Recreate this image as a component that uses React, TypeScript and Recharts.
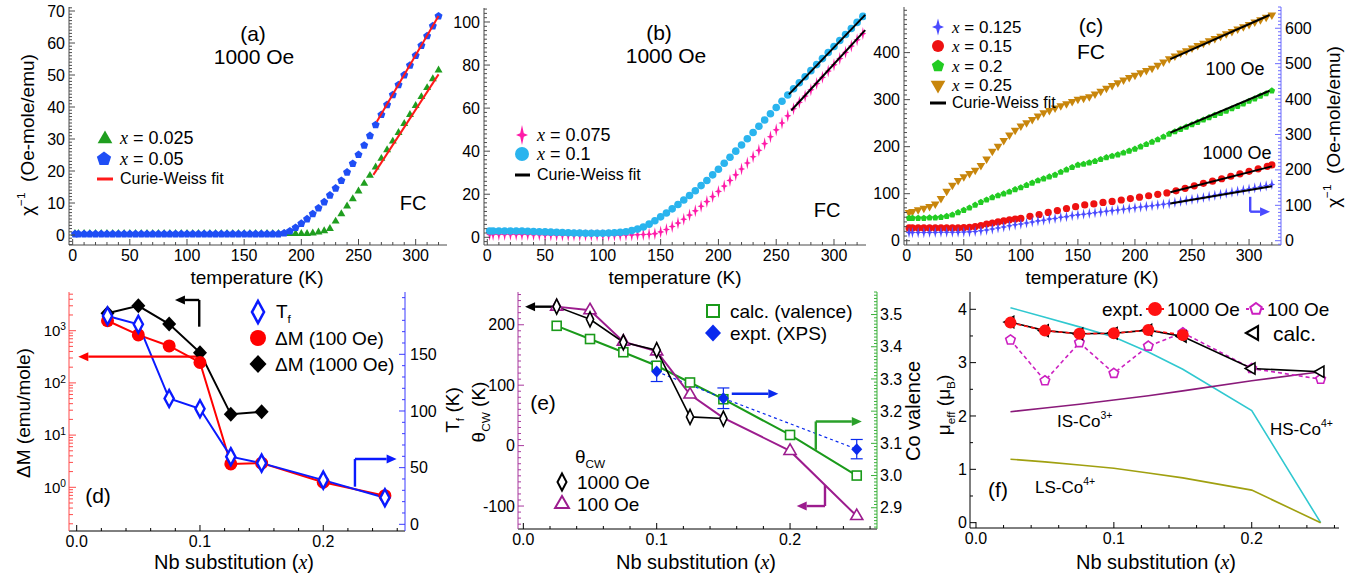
import React from 'react';
import { ComposedChart, Line, XAxis, YAxis, ReferenceLine, ErrorBar } from 'recharts';

const FONT = "'Liberation Sans', Arial, Helvetica, sans-serif";
const SERIF = "'Liberation Serif', 'Times New Roman', serif";

// ---------------- data: temperature panels ----------------
const T5 = [2, 5, 10, 15, 20, 25, 30, 35, 40, 45, 50, 55, 60, 65, 70, 75, 80, 85, 90, 95, 100, 105, 110, 115, 120, 125, 130, 135, 140, 145, 150, 155, 160, 165, 170, 175, 180, 185, 190, 195, 200, 205, 210, 215, 220, 225, 230, 235, 240, 245, 250, 255, 260, 265, 270, 275, 280, 285, 290, 295, 300, 305, 310, 315, 320];
const T5b = [...T5, 325];
const tRed = [2, 5, 10, 15, 20, 25, 30, 35, 40, 45, 50, 55, 60, 65, 70, 75, 80, 85, 90, 95, 100, 108, 116, 124, 132, 140, 148, 156, 164, 172, 180, 188, 196, 204, 212, 220, 228, 236, 244, 252, 260, 268, 276, 284, 292, 300, 308, 316, 320];

// (a) 1000 Oe
const chiA_x025 = [0.4, 0.4, 0.4, 0.4, 0.4, 0.4, 0.4, 0.4, 0.4, 0.4, 0.4, 0.4, 0.4, 0.4, 0.4, 0.4, 0.4, 0.4, 0.4, 0.4, 0.4, 0.4, 0.4, 0.4, 0.4, 0.4, 0.4, 0.4, 0.4, 0.4, 0.4, 0.4, 0.4, 0.4, 0.4, 0.4, 0.4, 0.4, 0.4, 0.4, 0.4, 0.4, 0.6, 0.9, 1.3, 2.0, 4.3, 6.6, 9.0, 11.3, 13.7, 16.1, 18.6, 21.2, 23.9, 26.6, 29.3, 32.0, 34.8, 37.6, 40.4, 43.2, 46.0, 48.8, 51.5];
const chiA_x05 = [0.3, 0.3, 0.3, 0.3, 0.3, 0.3, 0.3, 0.3, 0.3, 0.3, 0.3, 0.3, 0.3, 0.3, 0.3, 0.3, 0.3, 0.3, 0.3, 0.3, 0.3, 0.3, 0.3, 0.3, 0.3, 0.3, 0.3, 0.3, 0.3, 0.3, 0.3, 0.3, 0.3, 0.3, 0.3, 0.3, 0.3, 0.6, 1.2, 2.3, 3.6, 5.0, 6.6, 8.4, 10.3, 12.4, 14.6, 17.0, 19.6, 22.3, 25.1, 28.0, 31.0, 34.4, 37.6, 40.7, 43.8, 46.9, 50.0, 53.0, 56.1, 59.2, 62.2, 65.3, 68.4];
const fitA_x025 = [[263, 18.8], [320, 50.2]];
const fitA_x05 = [[266, 35.4], [320, 68.4]];

// (b) 1000 Oe
const chiB_x01 = [2.9, 2.9, 2.9, 2.9, 2.9, 2.9, 2.9, 2.8, 2.7, 2.6, 2.5, 2.4, 2.3, 2.2, 2.1, 2.0, 2.0, 1.9, 1.9, 1.9, 1.9, 2.0, 2.1, 2.3, 2.6, 3.1, 3.8, 4.8, 6.1, 7.7, 9.5, 11.3, 13.2, 15.2, 17.3, 19.4, 21.6, 24.0, 26.4, 29.0, 31.6, 34.4, 37.2, 40.0, 42.9, 45.8, 48.7, 51.6, 54.5, 57.4, 60.3, 63.2, 66.1, 69.0, 71.8, 74.6, 77.4, 80.2, 83.0, 85.8, 88.6, 91.4, 94.2, 97.0, 99.8, 102.6];
const chiB_x075 = [1.3, 1.3, 1.3, 1.3, 1.3, 1.3, 1.3, 1.3, 1.2, 1.2, 1.1, 1.1, 1.0, 1.0, 1.0, 1.0, 1.0, 1.0, 1.0, 1.0, 1.0, 1.0, 1.0, 1.0, 1.1, 1.1, 1.2, 1.3, 1.4, 1.7, 2.5, 3.6, 5.0, 6.6, 8.4, 10.3, 12.3, 14.4, 16.6, 18.9, 21.3, 23.8, 26.4, 29.0, 31.7, 34.5, 37.4, 40.4, 43.5, 46.7, 49.9, 53.1, 56.4, 59.7, 62.7, 65.6, 68.5, 71.4, 74.3, 77.2, 80.1, 83.0, 85.9, 88.8, 91.7, 94.6];
const fitB_x01 = [[261, 66.4], [327, 103.3]];
const fitB_x075 = [[263, 58.9], [327, 96.2]];

// (c) FC, 100 Oe (left axis) and 1000 Oe (right axis)
const chiC_x25 = [60, 62, 66, 69, 73, 78, 90, 105, 118, 128, 136, 143, 150, 160, 174, 190, 201, 213, 225, 235, 244, 251, 258, 265, 272, 277, 282, 287, 291, 296, 301, 303, 306, 312, 318, 324, 330, 336, 342, 347, 352, 357, 362, 367, 373, 380, 387, 393, 399, 404, 410, 415, 420, 425, 430, 435, 440, 445, 450, 455, 460, 465, 470, 475, 480];
const chiC_x2 = [48, 48, 48, 48, 49, 49, 50, 52, 55, 60, 65, 70, 76, 82, 87, 92, 96, 100, 104, 109, 113, 118, 123, 128, 132, 136, 140, 146, 151, 156, 161, 163, 166, 169, 173, 177, 180, 183, 187, 191, 195, 200, 205, 210, 215, 221, 227, 232, 237, 242, 247, 252, 257, 262, 267, 271, 276, 281, 286, 291, 297, 302, 308, 313, 319];
const chiC_x15 = [36, 36, 36, 36, 36, 36, 36, 36, 36, 36, 37, 38, 40, 43, 47, 50, 53, 56, 59, 61, 63, 69, 74, 80, 85, 91, 96, 101, 104, 108, 111, 115, 119, 123, 127, 131, 135, 141, 148, 155, 162, 168, 175, 182, 189, 196, 203, 210, 214];
const chiC_x125 = [23, 23, 23, 23, 23.5, 23.5, 24, 24, 24, 24, 24.5, 25, 26, 28, 30, 33, 36, 39, 42, 45, 47, 50, 53, 56, 58, 61, 63, 66, 68, 71, 73, 75, 77, 79, 81, 83, 85, 87, 89, 91, 93, 95, 97, 99, 101, 103, 105, 108, 111, 114, 117, 119, 122, 125, 128, 131, 134, 137, 140, 143, 146, 149, 152, 155, 159];
const fitC_x25 = [[231, 386], [318, 480]];
const fitC_x2 = [[231, 230], [318, 319]];
const fitC_x15 = [[231, 137], [320, 210]];
const fitC_x125 = [[231, 105], [320, 154]];

// ---------------- data: Nb substitution panels ----------------
const nb = [0.025, 0.05, 0.075, 0.1, 0.125, 0.15, 0.2, 0.25];
const dM1000 = [2150, 3000, 1340, 380, 25, 28];
const dM100 = [1550, 830, 510, 246, 2.8, 2.9, 1.25, 0.69];
const Tf = [183.8, 176.5, 111, 102, 59.7, 54, 39, 23.5];
const theta1000 = [230, 209, 171, 158, 47.5, 44.8];
const theta100 = [230, 224, 172, 156, 84.5, 46, -8.8, -116.6];
const valCalc = [3.465, 3.424, 3.383, 3.341, 3.289, 3.237, 3.126, 3.0];
const xpsX = [0.1, 0.15, 0.25];
const valXps = [3.323, 3.24, 3.082];
const valXpsErr = [0.031, 0.032, 0.03];
const muCalc = [3.76, 3.6, 3.54, 3.55, 3.61, 3.49, 2.89, 2.83];
const mu1000 = [3.75, 3.6, 3.54, 3.55, 3.61, 3.52];
const mu100 = [3.425, 2.66, 3.375, 2.8, 3.31, 3.56, 2.89, 2.69];
const muHS4 = [4.03, 3.85, 3.67, 3.48, 3.2, 2.875, 2.1, 0.0];
const muIS3 = [2.08, 2.15, 2.22, 2.3, 2.38, 2.47, 2.66, 2.83];
const muLS4 = [1.19, 1.14, 1.08, 1.02, 0.93, 0.84, 0.61, 0.0];

// annotation arrows (data coordinates)
const arrowC = [[301, 124], [301, 82], [318.4, 82]];
const arrowD_black = [[0.0994, 1193], [0.0994, 3875], [0.0797, 3875]];
const arrowD_red = [[0.0994, 318], [0.0013, 318]];
const arrowD_blue = [[0.2257, 33.2], [0.2257, 57.6], [0.2595, 57.6]];
const arrowE_black = [[0.025, 229.9], [0.0013, 229.9]];
const arrowE_blue = [[0.1563, 3.254], [0.1912, 3.254]];
const arrowE_green = [[0.2193, 3.080], [0.2193, 3.168], [0.2538, 3.168]];
const arrowE_purple = [[0.2262, -65.2], [0.2262, -100], [0.205, -100]];

// tick labels
const tickT = [0, 50, 100, 150, 200, 250, 300];
const tickA_y = [0, 10, 20, 30, 40, 50, 60, 70];
const tickB_y = [0, 20, 40, 60, 80, 100];
const tickC_l = [0, 100, 200, 300, 400];
const tickC_r = [0, 100, 200, 300, 400, 500, 600];
const tickNb = [0, 0.1, 0.2];
const tickD_log = [1, 10, 100, 1000];
const tickD_r = [0, 50, 100, 150];
const tickE_l = [-100, 0, 100, 200];
const tickE_r = [2.9, 3.0, 3.1, 3.2, 3.3, 3.4, 3.5];
const tickF_y = [0, 1, 2, 3, 4];

// ---------------- helpers ----------------
const pts = (xs: number[], ys: number[]) => ys.map((y, i) => ({ x: xs[i], y }));
const pairs = (p: number[][]) => p.map(([x, y]) => ({ x, y }));
const stepList = (a: number, b: number, s: number) => {
  const out: number[] = [];
  const n = Math.round((b - a) / s);
  for (let i = 0; i <= n; i++) out.push(+(a + i * s).toFixed(6));
  return out;
};
const logTicks = (lo: number, hi: number) => {
  const out: number[] = [];
  for (let e = -1; e <= 4; e++) for (let m = 1; m <= 9; m++) {
    const v = +(m * Math.pow(10, e)).toPrecision(6);
    if (v >= lo && v <= hi) out.push(v);
  }
  return out;
};

const TM = 10;
function mkTick(side: string, majors: number[], color: string, fmt: (v: number) => any = (v) => String(v), opt: any = {}) {
  const maj = opt.maj ?? 6, min = opt.min ?? 3, gap = opt.gap ?? 4, fs = opt.fs ?? 16;
  return (p: any) => {
    const v = Number(p.payload?.value);
    const isMaj = majors.some((m) => Math.abs(m - v) <= 1e-6 * Math.max(1, Math.abs(m)));
    const L = isMaj ? maj : min;
    const k = `t${p.index}`;
    if (side === 'left') {
      const ax = p.x + TM;
      return (
        <g key={k}>
          <line x1={ax} y1={p.y} x2={ax + L} y2={p.y} stroke={color} strokeWidth={1} />
          {isMaj && <text x={ax - gap} y={p.y} dy="0.35em" textAnchor="end" fontFamily={FONT} fontSize={fs} fill="#000">{fmt(v)}</text>}
        </g>
      );
    }
    if (side === 'right') {
      const ax = p.x - TM;
      return (
        <g key={k}>
          <line x1={ax} y1={p.y} x2={ax - L} y2={p.y} stroke={color} strokeWidth={1} />
          {isMaj && <text x={ax + gap} y={p.y} dy="0.35em" textAnchor="start" fontFamily={FONT} fontSize={fs} fill="#000">{fmt(v)}</text>}
        </g>
      );
    }
    const ay = p.y - TM;
    return (
      <g key={k}>
        <line x1={p.x} y1={ay} x2={p.x} y2={ay - L} stroke={color} strokeWidth={1} />
        {isMaj && <text x={p.x} y={ay + gap} dy="0.72em" textAnchor="middle" fontFamily={FONT} fontSize={fs} fill="#000">{fmt(v)}</text>}
      </g>
    );
  };
}

// marker shapes
const P = (pp: number[][], cx: number, cy: number) => pp.map(([x, y]) => `${(cx + x).toFixed(2)},${(cy + y).toFixed(2)}`).join(' ');
type Draw = (cx: number, cy: number) => any;
const triUp = (s: number, fill: string, stroke = 'none', sw = 0): Draw => (cx, cy) => <polygon points={P([[0, -s], [0.866 * s, 0.5 * s], [-0.866 * s, 0.5 * s]], cx, cy)} fill={fill} stroke={stroke} strokeWidth={sw} />;
const triDown = (s: number, fill: string): Draw => (cx, cy) => <polygon points={P([[0, s], [0.866 * s, -0.5 * s], [-0.866 * s, -0.5 * s]], cx, cy)} fill={fill} />;
const triLeft = (s: number, fill: string, stroke: string, sw: number): Draw => (cx, cy) => <polygon points={P([[-s, 0], [0.5 * s, -0.866 * s], [0.5 * s, 0.866 * s]], cx, cy)} fill={fill} stroke={stroke} strokeWidth={sw} />;
const pent = (s: number, fill: string, stroke = 'none', sw = 0): Draw => (cx, cy) => {
  const pp = [0, 1, 2, 3, 4].map((k) => { const a = (-90 + 72 * k) * Math.PI / 180; return [s * Math.cos(a), s * Math.sin(a)]; });
  return <polygon points={P(pp, cx, cy)} fill={fill} stroke={stroke} strokeWidth={sw} />;
};
const circ = (r: number, fill: string): Draw => (cx, cy) => <circle cx={cx} cy={cy} r={r} fill={fill} />;
const diam = (w: number, h: number, fill: string, stroke = 'none', sw = 0): Draw => (cx, cy) => <polygon points={P([[0, -h], [w, 0], [0, h], [-w, 0]], cx, cy)} fill={fill} stroke={stroke} strokeWidth={sw} />;
const star4 = (w: number, h: number, fill: string): Draw => (cx, cy) => {
  const i = w * 0.3;
  return <polygon points={P([[0, -h], [i, -i], [w, 0], [i, i], [0, h], [-i, i], [-w, 0], [-i, -i]], cx, cy)} fill={fill} />;
};
const sq = (h: number, fill: string, stroke: string, sw: number): Draw => (cx, cy) => <rect x={cx - h} y={cy - h} width={2 * h} height={2 * h} fill={fill} stroke={stroke} strokeWidth={sw} />;

const dotR = (draw: Draw, skip: number[] = []) => (p: any) => {
  if (p.cx == null || p.cy == null || !Number.isFinite(p.cx) || !Number.isFinite(p.cy) || skip.includes(p.index)) return <g key={`d${p.index}`} />;
  return <g key={`d${p.index}`}>{draw(p.cx, p.cy)}</g>;
};

const arrowShape = (color: string, head: boolean, sw = 2.4) => (p: any) => {
  const { x1, y1, x2, y2 } = p;
  if (![x1, y1, x2, y2].every((v) => Number.isFinite(v))) return <g />;
  if (!head) return <line x1={x1} y1={y1} x2={x2} y2={y2} stroke={color} strokeWidth={sw} />;
  const a = Math.atan2(y2 - y1, x2 - x1), L = 10, W = 4.5;
  const bx = x2 - L * Math.cos(a), by = y2 - L * Math.sin(a);
  const nx = -Math.sin(a) * W, ny = Math.cos(a) * W;
  return (
    <g>
      <line x1={x1} y1={y1} x2={bx} y2={by} stroke={color} strokeWidth={sw} />
      <polygon points={`${x2},${y2} ${bx + nx},${by + ny} ${bx - nx},${by - ny}`} fill={color} />
    </g>
  );
};
const arrowLines = (p: number[][], color: string, xId: string, yId: string, keyBase: string) =>
  p.slice(1).map((q, i) => (
    <ReferenceLine key={`${keyBase}${i}`} xAxisId={xId} yAxisId={yId} ifOverflow="visible"
      segment={[{ x: p[i][0], y: p[i][1] }, { x: q[0], y: q[1] }]}
      shape={arrowShape(color, i === p.length - 2)} />
  ));

const common: any = { isAnimationActive: false, activeDot: false, legendType: 'none' };
const HIDE: any = { axisLine: false, tick: false, tickLine: false };

// colours
const GRAY = '#4a4a4a';
const GREEN_A = '#1f9e1f', BLUE_A = '#1f4ef5', RED_FIT = '#ff1a1a';
const MAG_B = '#ff1aa8', CYAN_B = '#2ab4ee';
const BLUE_C = '#4a4aff', RED_C = '#ee1111', GREEN_C = '#22cc22', ORANGE_C = '#c8860c', AX_C = '#6b6bff';
const RED_D = '#ff0000', BLUE_D = '#0a1aff', AX_DL = '#ff4a4a', AX_DR = '#3a3aff';
const PURPLE_E = '#9c1c8e', GREEN_E = '#1a9a1a', BLUE_E = '#0a2aee', AX_EL = '#a8389e', AX_ER = '#3ab03a';
const RED_F = '#ff1111', MAG_F = '#cc20c0', CYAN_F = '#30c8d0', PURPLE_F = '#8a1a7a', OLIVE_F = '#a0a010';

const frameTop = (color: string, show = true) => <XAxis key="ft" xAxisId="top" orientation="top" type="number" domain={[0, 1]} height={0} tick={false} tickLine={false} axisLine={show ? { stroke: color } : false} />;
const frameRight = (color: string, show = true) => <YAxis key="fr" yAxisId="rf" orientation="right" type="number" domain={[0, 1]} width={0} tick={false} tickLine={false} axisLine={show ? { stroke: color } : false} />;

// ---------------- axes for the temperature panels ----------------
function axesA(show: boolean) {
  const h = show ? {} : HIDE;
  return [
    <XAxis key="xb" xAxisId="b" type="number" dataKey="x" domain={[-3.2, 327.4]} allowDataOverflow ticks={stepList(0, 320, 10)} interval={0} height={45} tickSize={0} tickMargin={TM} tickLine={false} axisLine={{ stroke: GRAY }} tick={mkTick('bottom', tickT, GRAY)} {...h} />,
    frameTop(GRAY, show),
    <YAxis key="yl" yAxisId="l" type="number" domain={[-3.125, 71.25]} allowDataOverflow width={69} ticks={stepList(-3, 71, 1)} interval={0} tickSize={0} tickMargin={TM} tickLine={false} axisLine={{ stroke: GRAY }} tick={mkTick('left', tickA_y, GRAY)} {...h} />,
    frameRight(GRAY, show),
  ];
}
function axesB(show: boolean) {
  const h = show ? {} : HIDE;
  return [
    <XAxis key="xb" xAxisId="b" type="number" dataKey="x" domain={[-2.86, 327.7]} allowDataOverflow ticks={stepList(0, 320, 10)} interval={0} height={45} tickSize={0} tickMargin={TM} tickLine={false} axisLine={{ stroke: GRAY }} tick={mkTick('bottom', tickT, GRAY)} {...h} />,
    frameTop(GRAY, show),
    <YAxis key="yl" yAxisId="l" type="number" domain={[-3.58, 106.5]} allowDataOverflow width={39} ticks={stepList(-2, 106, 2)} interval={0} tickSize={0} tickMargin={TM} tickLine={false} axisLine={{ stroke: GRAY }} tick={mkTick('left', tickB_y, GRAY)} {...h} />,
    frameRight(GRAY, show),
  ];
}
function axesC(show: boolean) {
  const h = show ? {} : HIDE;
  return [
    <XAxis key="xb" xAxisId="b" type="number" dataKey="x" domain={[-2.4, 328]} allowDataOverflow ticks={stepList(0, 320, 10)} interval={0} height={45} tickSize={0} tickMargin={TM} tickLine={false} axisLine={{ stroke: GRAY }} tick={mkTick('bottom', tickT, GRAY)} {...h} />,
    frameTop(GRAY, show),
    <YAxis key="yl" yAxisId="l" type="number" domain={[-9.1, 497]} allowDataOverflow width={44} ticks={stepList(0, 490, 10)} interval={0} tickSize={0} tickMargin={TM} tickLine={false} axisLine={{ stroke: GRAY }} tick={mkTick('left', tickC_l, GRAY)} {...h} />,
    <YAxis key="yr" yAxisId="r" orientation="right" type="number" domain={[-12.1, 660]} allowDataOverflow width={84} ticks={stepList(-10, 660, 10)} interval={0} tickSize={0} tickMargin={TM} tickLine={false} axisLine={{ stroke: AX_C }} tick={mkTick('right', tickC_r, AX_C)} {...h} />,
  ];
}

const Layered = ({ left, top, width, height, margin, axes, base, over }: any) => (
  <div style={{ position: 'absolute', left, top, width, height }}>
    <div style={{ position: 'absolute', left: 0, top: 0 }}>
      <ComposedChart width={width} height={height} margin={margin}>
        {axes(true)}
        {base}
      </ComposedChart>
    </div>
    <div style={{ position: 'absolute', left: 0, top: 0 }}>
      <ComposedChart width={width} height={height} margin={margin}>
        {axes(false)}
        {over}
      </ComposedChart>
    </div>
  </div>
);

// ---------------- panels ----------------
function PanelA() {
  return (
    <Layered left={0} top={0} width={455} height={290} margin={{ top: 7, right: 8, bottom: 0, left: 0 }} axes={axesA}
      base={[
        <Line key="g" {...common} xAxisId="b" yAxisId="l" data={pts(T5, chiA_x025)} dataKey="y" stroke="none" dot={dotR(triUp(4.6, GREEN_A))} />,
        <Line key="b" {...common} xAxisId="b" yAxisId="l" data={pts(T5, chiA_x05)} dataKey="y" stroke="none" dot={dotR(pent(4.2, BLUE_A))} />,
      ]}
      over={[
        <Line key="f1" {...common} xAxisId="b" yAxisId="l" data={pairs(fitA_x025)} dataKey="y" stroke={RED_FIT} strokeWidth={2} dot={false} />,
        <Line key="f2" {...common} xAxisId="b" yAxisId="l" data={pairs(fitA_x05)} dataKey="y" stroke={RED_FIT} strokeWidth={2} dot={false} />,
      ]} />
  );
}

function PanelB() {
  return (
    <Layered left={445} top={0} width={430} height={290} margin={{ top: 8, right: 9, bottom: 0, left: 0 }} axes={axesB}
      base={[
        <Line key="m" {...common} xAxisId="b" yAxisId="l" data={pts(T5b, chiB_x075)} dataKey="y" stroke="none" dot={dotR(star4(3.6, 6.5, MAG_B))} />,
        <Line key="c" {...common} xAxisId="b" yAxisId="l" data={pts(T5b, chiB_x01)} dataKey="y" stroke="none" dot={dotR(circ(3.8, CYAN_B))} />,
      ]}
      over={[
        <Line key="f1" {...common} xAxisId="b" yAxisId="l" data={pairs(fitB_x01)} dataKey="y" stroke="#000" strokeWidth={2} dot={false} />,
        <Line key="f2" {...common} xAxisId="b" yAxisId="l" data={pairs(fitB_x075)} dataKey="y" stroke="#000" strokeWidth={2} dot={false} />,
      ]} />
  );
}

function PanelC() {
  return (
    <Layered left={860} top={0} width={505} height={290} margin={{ top: 7, right: 0, bottom: 0, left: 0 }} axes={axesC}
      base={[
        <Line key="o" {...common} xAxisId="b" yAxisId="l" data={pts(T5, chiC_x25)} dataKey="y" stroke="none" dot={dotR(triDown(5, ORANGE_C))} />,
        <Line key="g" {...common} xAxisId="b" yAxisId="l" data={pts(T5, chiC_x2)} dataKey="y" stroke="none" dot={dotR(pent(3.4, GREEN_C))} />,
        <Line key="r" {...common} xAxisId="b" yAxisId="r" data={pts(tRed, chiC_x15)} dataKey="y" stroke="none" dot={dotR(circ(3.6, RED_C))} />,
        <Line key="b" {...common} xAxisId="b" yAxisId="r" data={pts(T5, chiC_x125)} dataKey="y" stroke="none" dot={dotR(star4(3.4, 5.6, BLUE_C))} />,
        ...arrowLines(arrowC, '#4a4aff', 'b', 'r', 'ac'),
      ]}
      over={[
        <Line key="f1" {...common} xAxisId="b" yAxisId="l" data={pairs(fitC_x25)} dataKey="y" stroke="#000" strokeWidth={2} dot={false} />,
        <Line key="f2" {...common} xAxisId="b" yAxisId="l" data={pairs(fitC_x2)} dataKey="y" stroke="#000" strokeWidth={2} dot={false} />,
        <Line key="f3" {...common} xAxisId="b" yAxisId="r" data={pairs(fitC_x15)} dataKey="y" stroke="#000" strokeWidth={2} dot={false} />,
        <Line key="f4" {...common} xAxisId="b" yAxisId="r" data={pairs(fitC_x125)} dataKey="y" stroke="#000" strokeWidth={2} dot={false} />,
      ]} />
  );
}

const fmtNb = (v: number) => v.toFixed(1);
const fmtLog = (v: number) => {
  const e = Math.round(Math.log10(v));
  return (<><tspan>10</tspan><tspan dy="-0.55em" fontSize="0.68em">{e}</tspan></>);
};

function PanelD() {
  const yl = [0.1455, 5510];
  return (
    <div style={{ position: 'absolute', left: 0, top: 285 }}>
      <ComposedChart width={465} height={291} margin={{ top: 7, right: 0, bottom: 0, left: 0 }}>
        <XAxis xAxisId="b" type="number" dataKey="x" domain={[-0.00624, 0.2663]} allowDataOverflow ticks={stepList(0, 0.26, 0.02)} interval={0} height={45} tickSize={0} tickMargin={TM} tickLine={false} axisLine={{ stroke: '#000' }} tick={mkTick('bottom', tickNb, '#000', fmtNb)} />
        {frameTop('#000')}
        <YAxis yAxisId="l" type="number" scale="log" domain={yl} allowDataOverflow width={69} ticks={logTicks(yl[0], yl[1])} interval={0} tickSize={0} tickMargin={TM} tickLine={false} axisLine={{ stroke: AX_DL }} tick={mkTick('left', tickD_log, AX_DL, fmtLog, { fs: 15, maj: 7, min: 4, gap: 3 })} />
        <YAxis yAxisId="r" orientation="right" type="number" domain={[-5.9, 205]} allowDataOverflow width={60} ticks={stepList(0, 200, 10)} interval={0} tickSize={0} tickMargin={TM} tickLine={false} axisLine={{ stroke: AX_DR }} tick={mkTick('right', tickD_r, AX_DR, (v) => String(v), { gap: 5 })} />
        <Line {...common} xAxisId="b" yAxisId="l" data={pts(nb, dM1000)} dataKey="y" stroke="#000" strokeWidth={2} dot={dotR(diam(7, 7.5, '#000'))} />
        <Line {...common} xAxisId="b" yAxisId="l" data={pts(nb, dM100)} dataKey="y" stroke={RED_D} strokeWidth={2} dot={dotR(circ(6.5, RED_D))} />
        <Line {...common} xAxisId="b" yAxisId="r" data={pts(nb, Tf)} dataKey="y" stroke={BLUE_D} strokeWidth={2} dot={dotR(diam(4.6, 8.5, '#fff', BLUE_D, 2.4))} />
        {arrowLines(arrowD_black, '#000', 'b', 'l', 'adk')}
        {arrowLines(arrowD_red, RED_D, 'b', 'l', 'adr')}
        {arrowLines(arrowD_blue, BLUE_D, 'b', 'r', 'adb')}
      </ComposedChart>
    </div>
  );
}

function PanelE() {
  const xps = xpsX.map((x, i) => ({ x, y: valXps[i], e: valXpsErr[i] }));
  return (
    <div style={{ position: 'absolute', left: 465, top: 285 }}>
      <ComposedChart width={460} height={291} margin={{ top: 7, right: 0, bottom: 0, left: 0 }}>
        <XAxis xAxisId="b" type="number" dataKey="x" domain={[-0.004, 0.2652]} allowDataOverflow ticks={stepList(0, 0.26, 0.02)} interval={0} height={47} tickSize={0} tickMargin={TM} tickLine={false} axisLine={{ stroke: '#000' }} tick={mkTick('bottom', tickNb, '#000', fmtNb)} />
        {frameTop('#000')}
        <YAxis yAxisId="l" type="number" domain={[-138, 254.2]} allowDataOverflow width={53} ticks={stepList(-130, 250, 10)} interval={0} tickSize={0} tickMargin={TM} tickLine={false} axisLine={{ stroke: AX_EL }} tick={mkTick('left', tickE_l, AX_EL, (v) => String(v), { gap: 3 })} />
        <YAxis yAxisId="r" orientation="right" type="number" domain={[2.834, 3.57]} allowDataOverflow width={48} ticks={stepList(2.84, 3.57, 0.01)} interval={0} tickSize={0} tickMargin={TM} tickLine={false} axisLine={{ stroke: AX_ER }} tick={mkTick('right', tickE_r, AX_ER, (v) => v.toFixed(1), { gap: 3, min: 3 })} />
        <Line {...common} xAxisId="b" yAxisId="r" data={pts(nb, valCalc)} dataKey="y" stroke={GREEN_E} strokeWidth={2} dot={dotR(sq(4.5, '#fff', GREEN_E, 1.6))} />
        <Line {...common} xAxisId="b" yAxisId="r" data={xps} dataKey="y" stroke={BLUE_E} strokeWidth={1.2} strokeDasharray="3 3" dot={dotR(diam(5.5, 6, BLUE_E))}>
          <ErrorBar dataKey="e" direction="y" width={6} stroke={BLUE_E} strokeWidth={1.2} />
        </Line>
        <Line {...common} xAxisId="b" yAxisId="l" data={pts(nb, theta100)} dataKey="y" stroke={PURPLE_E} strokeWidth={2} dot={dotR(triUp(7, '#fff', PURPLE_E, 1.6), [5])} />
        <Line {...common} xAxisId="b" yAxisId="l" data={pts(nb, theta1000)} dataKey="y" stroke="#000" strokeWidth={1.6} dot={dotR(diam(3.6, 7.5, '#fff', '#000', 1.6))} />
        {arrowLines(arrowE_black, '#000', 'b', 'l', 'aek')}
        {arrowLines(arrowE_purple, PURPLE_E, 'b', 'l', 'aep')}
        {arrowLines(arrowE_blue, BLUE_E, 'b', 'r', 'aeb')}
        {arrowLines(arrowE_green, '#2aa02a', 'b', 'r', 'aeg')}
      </ComposedChart>
    </div>
  );
}

function PanelF() {
  return (
    <div style={{ position: 'absolute', left: 925, top: 285 }}>
      <ComposedChart width={440} height={291} margin={{ top: 7, right: 26, bottom: 0, left: 0 }}>
        <XAxis xAxisId="b" type="number" dataKey="x" domain={[-0.00435, 0.2633]} allowDataOverflow ticks={stepList(0, 0.26, 0.02)} interval={0} height={48} tickSize={0} tickMargin={TM} tickLine={false} axisLine={{ stroke: '#000' }} tick={mkTick('bottom', tickNb, '#000', fmtNb)} />
        {frameTop('#000')}
        <YAxis yAxisId="l" type="number" domain={[-0.1, 4.324]} allowDataOverflow width={45} ticks={stepList(0, 4, 0.5)} interval={0} tickSize={0} tickMargin={TM} tickLine={false} axisLine={{ stroke: '#000' }} tick={mkTick('left', tickF_y, '#000', (v) => String(v), { gap: 3 })} />
        {frameRight('#000')}
        <Line {...common} xAxisId="b" yAxisId="l" data={pts(nb, muHS4)} dataKey="y" stroke={CYAN_F} strokeWidth={1.6} dot={false} />
        <Line {...common} xAxisId="b" yAxisId="l" data={pts(nb, muIS3)} dataKey="y" stroke={PURPLE_F} strokeWidth={1.6} dot={false} />
        <Line {...common} xAxisId="b" yAxisId="l" data={pts(nb, muLS4)} dataKey="y" stroke={OLIVE_F} strokeWidth={1.6} dot={false} />
        <Line {...common} xAxisId="b" yAxisId="l" data={pts(nb, mu100)} dataKey="y" stroke={MAG_F} strokeWidth={1.6} strokeDasharray="4 3" dot={dotR(pent(5, '#fff', MAG_F, 1.6))} />
        <Line {...common} xAxisId="b" yAxisId="l" data={pts(nb, muCalc)} dataKey="y" stroke="#000" strokeWidth={1.6} dot={dotR(triLeft(6.5, '#fff', '#000', 1.6))} />
        <Line {...common} xAxisId="b" yAxisId="l" data={pts(nb, mu1000)} dataKey="y" stroke={RED_F} strokeWidth={1.6} strokeDasharray="4 3" dot={dotR(circ(6, RED_F))} />
      </ComposedChart>
    </div>
  );
}

// ---------------- overlay text ----------------
const Txt = ({ x, y, a = 's', fs = 18, rot = 0, c = '#000', children }: any) => {
  const tx = a === 'm' ? '-50%' : a === 'e' ? '-100%' : '0%';
  return (
    <div style={{ position: 'absolute', left: x, top: y, transform: `translate(${tx},-50%)${rot ? ` rotate(${rot}deg)` : ''}`, fontFamily: FONT, fontSize: fs, lineHeight: 1, whiteSpace: 'nowrap', color: c }}>
      {children}
    </div>
  );
};
const Sup = ({ children }: any) => <span style={{ fontSize: '0.62em', position: 'relative', top: '-0.75em' }}>{children}</span>;
const Sub = ({ children }: any) => <span style={{ fontSize: '0.62em', position: 'relative', top: '0.4em' }}>{children}</span>;
const Xi = () => <span style={{ fontFamily: SERIF, fontStyle: 'italic' }}>x</span>;
const Icon = ({ x, y, draw, w = 28, h = 28 }: any) => (
  <svg width={w} height={h} style={{ position: 'absolute', left: x - w / 2, top: y - h / 2, overflow: 'visible' }}>{draw(w / 2, h / 2)}</svg>
);
const LIcon = ({ x1, x2, y, color, sw = 3, dash }: any) => (
  <svg width={x2 - x1} height={10} style={{ position: 'absolute', left: x1, top: y - 5, overflow: 'visible' }}>
    <line x1={0} y1={5} x2={x2 - x1} y2={5} stroke={color} strokeWidth={sw} strokeDasharray={dash} />
  </svg>
);
const Chi = () => (<span>χ<Sup>−1</Sup>&nbsp;&nbsp;(Oe-mole/emu)</span>);

function Overlay() {
  return (
    <div style={{ position: 'absolute', left: 0, top: 0, width: 1365, height: 576, pointerEvents: 'none' }}>
      {/* (a) */}
      <Txt x={253} y={33} a="m" fs={21}>(a)</Txt>
      <Txt x={254} y={56} a="m" fs={21}>1000 Oe</Txt>
      <Txt x={413} y={203} a="m" fs={20}>FC</Txt>
      <Icon x={105} y={139} draw={triUp(8.5, GREEN_A)} />
      <Icon x={104} y={159} draw={pent(7.5, BLUE_A)} />
      <LIcon x1={97} x2={113} y={179} color={RED_FIT} />
      <Txt x={120} y={138} fs={18}><Xi /> = 0.025</Txt>
      <Txt x={120} y={159} fs={18}><Xi /> = 0.05</Txt>
      <Txt x={120} y={179} fs={16}>Curie-Weiss fit</Txt>
      <Txt x={27} y={135} a="m" rot={-90} fs={19}><Chi /></Txt>
      <Txt x={257} y={277} a="m" fs={19}>temperature (K)</Txt>

      {/* (b) */}
      <Txt x={659} y={32} a="m" fs={21}>(b)</Txt>
      <Txt x={666} y={55} a="m" fs={21}>1000 Oe</Txt>
      <Txt x={827} y={210} a="m" fs={20}>FC</Txt>
      <Icon x={522} y={135} draw={star4(6, 10, MAG_B)} />
      <Icon x={522} y={154} draw={circ(7, CYAN_B)} />
      <LIcon x1={515} x2={530} y={175} color="#000" />
      <Txt x={537} y={135} fs={18}><Xi /> = 0.075</Txt>
      <Txt x={537} y={154} fs={18}><Xi /> = 0.1</Txt>
      <Txt x={537} y={175} fs={16}>Curie-Weiss fit</Txt>
      <Txt x={675} y={277} a="m" fs={19}>temperature (K)</Txt>

      {/* (c) */}
      <Icon x={938} y={27} draw={star4(6, 8.5, BLUE_C)} />
      <Icon x={938} y={46} draw={circ(6, RED_C)} />
      <Icon x={938} y={66} draw={pent(6.5, GREEN_C)} />
      <Icon x={938} y={85} draw={triDown(8.5, ORANGE_C)} />
      <LIcon x1={930} x2={946} y={103} color="#000" />
      <Txt x={952} y={27} fs={17}><Xi /> = 0.125</Txt>
      <Txt x={952} y={46} fs={17}><Xi /> = 0.15</Txt>
      <Txt x={952} y={66} fs={17}><Xi /> = 0.2</Txt>
      <Txt x={952} y={85} fs={17}><Xi /> = 0.25</Txt>
      <Txt x={952} y={103} fs={16}>Curie-Weiss fit</Txt>
      <Txt x={1091} y={25} a="m" fs={21}>(c)</Txt>
      <Txt x={1091} y={51} a="m" fs={21}>FC</Txt>
      <Txt x={1235} y={69} a="m" fs={18}>100 Oe</Txt>
      <Txt x={1237} y={153} a="m" fs={18}>1000 Oe</Txt>
      <Txt x={1092} y={277} a="m" fs={19}>temperature (K)</Txt>
      <Txt x={1333} y={127} a="m" rot={-90} fs={19}><Chi /></Txt>

      {/* (d) */}
      <Txt x={98} y={495} a="m" fs={21}>(d)</Txt>
      <Icon x={258} y={312} draw={diam(6, 11, '#fff', BLUE_D, 2.6)} />
      <Icon x={258} y={338} draw={circ(8, RED_D)} />
      <Icon x={258} y={364} draw={diam(8.5, 9, '#000')} />
      <Txt x={276} y={311} fs={19}>T<Sub>f</Sub></Txt>
      <Txt x={275} y={338} fs={19}>ΔM (100 Oe)</Txt>
      <Txt x={275} y={364} fs={19}>ΔM (1000 Oe)</Txt>
      <Txt x={23} y={413} a="m" rot={-90} fs={19}>ΔM (emu/mole)</Txt>
      <Txt x={452} y={410} a="m" rot={-90} fs={19}>T<Sub>f</Sub> (K)</Txt>
      <Txt x={234} y={562} a="m" fs={20}>Nb substitution (<Xi />)</Txt>

      {/* (e) */}
      <Txt x={543} y={402} a="m" fs={21}>(e)</Txt>
      <Icon x={713} y={311} draw={sq(6, '#fff', GREEN_E, 2)} />
      <Icon x={713} y={333} draw={diam(8, 8.5, BLUE_E)} />
      <Txt x={730} y={311} fs={19}>calc. (valence)</Txt>
      <Txt x={730} y={333} fs={19}>expt. (XPS)</Txt>
      <Txt x={575} y={456} fs={19}>θ<Sub>CW</Sub></Txt>
      <Icon x={562} y={482} draw={diam(4.5, 8.5, '#fff', '#000', 2)} />
      <Icon x={562} y={504} draw={triUp(8, '#fff', PURPLE_E, 2)} />
      <Txt x={577} y={482} fs={19}>1000 Oe</Txt>
      <Txt x={577} y={504} fs={19}>100 Oe</Txt>
      <Txt x={478} y={412} a="m" rot={-90} fs={19}>θ<Sub>CW</Sub> (K)</Txt>
      <Txt x={913} y={411} a="m" rot={-90} fs={20}>Co valence</Txt>
      <Txt x={696} y={562} a="m" fs={20}>Nb substitution (<Xi />)</Txt>

      {/* (f) */}
      <Txt x={1102} y={309} fs={19}>expt.</Txt>
      <LIcon x1={1146} x2={1164} y={309} color={RED_F} sw={2} dash="3 2" />
      <Icon x={1155} y={309} draw={circ(7, RED_F)} />
      <Txt x={1167} y={309} fs={19}>1000 Oe</Txt>
      <LIcon x1={1246} x2={1265} y={309} color={MAG_F} sw={2} dash="3 2" />
      <Icon x={1256} y={309} draw={pent(6, '#fff', MAG_F, 2)} />
      <Txt x={1267} y={309} fs={19}>100 Oe</Txt>
      <Icon x={1254} y={333} draw={triLeft(8, '#fff', '#000', 2.2)} />
      <Txt x={1273} y={333} fs={21}>calc.</Txt>
      <Txt x={1057} y={421} fs={17}>IS-Co<Sup>3+</Sup></Txt>
      <Txt x={1270} y={429} fs={17}>HS-Co<Sup>4+</Sup></Txt>
      <Txt x={1035} y={487} fs={17}>LS-Co<Sup>4+</Sup></Txt>
      <Txt x={998} y={489} a="m" fs={21}>(f)</Txt>
      <Txt x={943} y={405} a="m" rot={-90} fs={19}>μ<Sub>eff</Sub> (μ<Sub>B</Sub>)</Txt>
      <Txt x={1156} y={562} a="m" fs={20}>Nb substitution (<Xi />)</Txt>
    </div>
  );
}

export default function App() {
  return (
    <div style={{ position: 'absolute', left: 0, top: 0, width: 1365, height: 576, background: '#fff', overflow: 'hidden' }}>
      <PanelA />
      <PanelB />
      <PanelC />
      <PanelD />
      <PanelE />
      <PanelF />
      <Overlay />
    </div>
  );
}
